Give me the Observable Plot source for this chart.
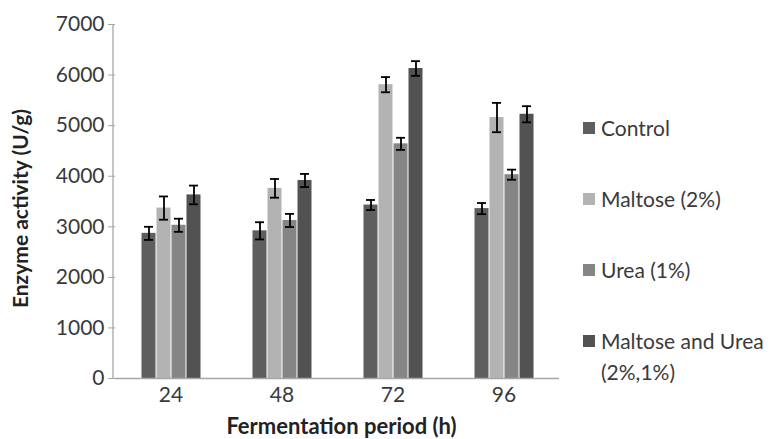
<!DOCTYPE html>
<html>
<head>
<meta charset="utf-8">
<script src="https://cdn.jsdelivr.net/npm/d3@7"></script>
<script src="https://cdn.jsdelivr.net/npm/@observablehq/plot@0.6"></script>
<style>
  html, body { margin: 0; padding: 0; background: #fff; }
  #wrap { position: relative; width: 771px; height: 439px; font-family: Lato, "Open Sans", sans-serif; }
  #legend { position: absolute; left: 583px; top: 112px; display: flex; flex-direction: column; gap: 40px; }
  .item { display: flex; align-items: flex-start; font-size: 21px; line-height: 31px; color: #3a3a3a; width: 188px; }
  .sw { width: 12px; height: 12px; flex: none; margin-top: 10px; margin-right: 6px; }
  svg [aria-label="y-axis tick"] path { stroke: #a6a6a6; }
  svg [aria-label="y-axis label"] text { font-weight: bold; fill: #222; font-size: 21px; }
  svg [aria-label="fx-axis label"] text { font-weight: bold; fill: #222; font-size: 22px; }
</style>
</head>
<body>
<div id="wrap"><div id="legend"></div></div>
<script>
const periods = ["24", "48", "72", "96"];
const series = ["Control", "Maltose (2%)", "Urea (1%)", "Maltose and Urea (2%,1%)"];
const colors = ["#5e5e5e", "#b3b3b3", "#858585", "#525252"];
const control = [2870, 2920, 3430, 3360];
const maltose = [3370, 3760, 5810, 5160];
const urea = [3030, 3125, 4640, 4030];
const maltoseUrea = [3630, 3915, 6130, 5225];
const controlErr = [130, 170, 100, 110];
const maltoseErr = [230, 185, 150, 290];
const ureaErr = [130, 130, 120, 100];
const maltoseUreaErr = [185, 130, 145, 160];
const yTicks = [0, 1000, 2000, 3000, 4000, 5000, 6000, 7000];

const vals = [control, maltose, urea, maltoseUrea];
const errs = [controlErr, maltoseErr, ureaErr, maltoseUreaErr];
const data = periods.flatMap((p, i) => series.map((s, j) => ({
  period: p, series: s, value: vals[j][i], err: errs[j][i]
})));

const chart = Plot.plot({
  width: 771,
  height: 439,
  marginLeft: 113,
  marginRight: 211,
  marginTop: 24,
  marginBottom: 61,
  style: { fontFamily: "Lato, 'Open Sans', sans-serif", fontSize: "21px", color: "#3a3a3a", background: "#fff" },
  fx: { domain: periods, paddingInner: 0, paddingOuter: 0 },
  x: { domain: series, paddingInner: 0, paddingOuter: 1.57, axis: null },
  y: { domain: [0, 7000] },
  color: { domain: series, range: colors },
  marks: [
    Plot.barY(data, { fx: "period", x: "series", y: "value", fill: "series", insetLeft: 0.5, insetRight: 0.5 }),
    Plot.ruleY([0], { stroke: "#a6a6a6", strokeWidth: 1.3 }),
    Plot.ruleX(data, { fx: "period", x: "series", y1: d => d.value - d.err, y2: d => d.value + d.err, stroke: "#000", strokeWidth: 1.8 }),
    Plot.tickY(data, { fx: "period", x: "series", y: d => d.value - d.err, stroke: "#000", strokeWidth: 1.8, insetLeft: 3, insetRight: 3 }),
    Plot.tickY(data, { fx: "period", x: "series", y: d => d.value + d.err, stroke: "#000", strokeWidth: 1.8, insetLeft: 3, insetRight: 3 }),
    Plot.axisY({ ticks: yTicks, tickFormat: d3.format("d"), tickSize: 7, tickPadding: 4,
      label: "Enzyme activity (U/g)", labelAnchor: "center", labelArrow: "none", labelOffset: 102 }),
    Plot.axisFx({ anchor: "bottom", tickSize: 0, tickPadding: 9,
      label: "Fermentation period (h)", labelAnchor: "center", labelArrow: "none", labelOffset: 55 })
  ]
});

// vertical axis line from the y scale
const ys = chart.scale("y");
const y0 = ys.apply(0), y7 = ys.apply(7000);
d3.select(chart).append("line").attr("x1", 113).attr("x2", 113).attr("y1", y0).attr("y2", y7)
  .attr("stroke", "#a6a6a6").attr("stroke-width", 1.3);
d3.select(chart).selectAll('[aria-label="y-axis label"] text').attr("dx", -7);
d3.select(chart).selectAll('[aria-label="fx-axis label"] text').attr("dx", 4);

document.getElementById("wrap").prepend(chart);

const legend = d3.select("#legend");
series.forEach((s, j) => {
  const it = legend.append("div").attr("class", "item");
  it.append("div").attr("class", "sw").style("background", colors[j]);
  it.append("div").text(s);
});
</script>
</body>
</html>
